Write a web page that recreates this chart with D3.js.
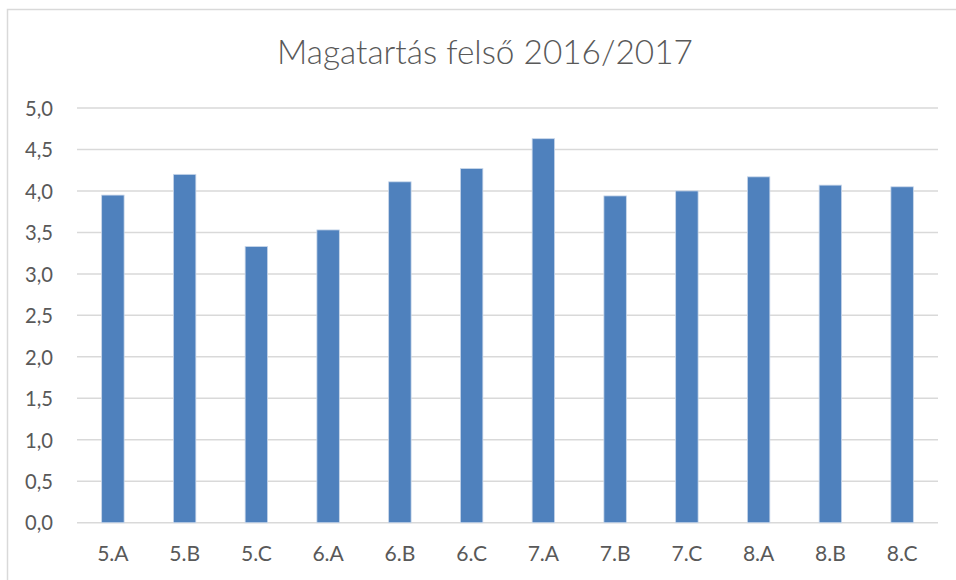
<!DOCTYPE html>
<html>
<head>
<meta charset="utf-8">
<script src="https://cdn.jsdelivr.net/npm/d3@7"></script>
<style>
  html, body { margin: 0; padding: 0; background: #fff; }
  svg { display: block; }
</style>
</head>
<body>
<svg id="chart" width="956" height="580"></svg>
<script>
const title = "Magatartás felső 2016/2017";
const categories = ["5.A","5.B","5.C","6.A","6.B","6.C","7.A","7.B","7.C","8.A","8.B","8.C"];
const values = [3.95, 4.20, 3.33, 3.53, 4.11, 4.27, 4.63, 3.94, 4.00, 4.17, 4.07, 4.05];
const yTicks = [0, 0.5, 1, 1.5, 2, 2.5, 3, 3.5, 4, 4.5, 5];

const svg = d3.select("#chart");
const W = 956, H = 580;
const plot = { left: 77, right: 938, top: 108, bottom: 522.7 };
const font = "Lato, 'Open Sans', 'Noto Sans', sans-serif";
const textColor = "#595959";

// chart border (extends past viewport right/bottom as in reference)
svg.append("rect")
  .attr("x", 7.5).attr("y", 9.5)
  .attr("width", W + 20).attr("height", H + 20)
  .attr("fill", "#fff").attr("stroke", "#D9D9D9").attr("stroke-width", 1.5);

const x = d3.scaleBand().domain(categories).range([plot.left, plot.right])
  .paddingInner(0.687).paddingOuter(0.3435);
const y = d3.scaleLinear().domain([0, 5]).range([plot.bottom, plot.top]);

function fit(sel, target) {
  const node = sel.node();
  const fs = parseFloat(sel.attr("font-size"));
  const w = node.getComputedTextLength();
  if (w > 0) sel.attr("font-size", fs * target / w);
}

// gridlines
const grid = svg.append("g");
grid.selectAll("line").data(yTicks).join("line")
  .attr("x1", plot.left).attr("x2", plot.right)
  .attr("y1", d => y(d)).attr("y2", d => y(d))
  .attr("stroke", "#D9D9D9").attr("stroke-width", 1.5);

// y axis labels via d3 axis
const fmt = d => d3.format(".1f")(d).replace(".", ",");
const yAxis = svg.append("g")
  .attr("transform", `translate(${53},0)`)
  .call(d3.axisLeft(y).tickValues(yTicks).tickFormat(fmt).tickSize(0).tickPadding(0));
yAxis.select(".domain").remove();
yAxis.selectAll("text")
  .attr("font-family", font).attr("font-size", 20)
  .attr("fill", textColor).attr("dy", "0.36em");

// bars
svg.append("g").selectAll("rect").data(values).join("rect")
  .attr("x", (d, i) => x(categories[i]))
  .attr("width", x.bandwidth())
  .attr("y", d => y(d))
  .attr("height", d => y(0) - y(d))
  .attr("fill", "#4F81BD")
  .attr("stroke", "#C9D7EA").attr("stroke-width", 0.8);

// x axis labels
const xAxis = svg.append("g")
  .attr("transform", `translate(0,${plot.bottom})`)
  .call(d3.axisBottom(x).tickSize(0).tickPadding(0));
xAxis.select(".domain").remove();
xAxis.selectAll("text")
  .attr("font-family", font).attr("font-size", 20)
  .attr("fill", textColor).attr("y", 38.5).attr("dy", 0);

// title
const t = svg.append("text")
  .attr("x", 485).attr("y", 64)
  .attr("text-anchor", "middle")
  .attr("font-family", font).attr("font-weight", 300)
  .attr("font-size", 32).attr("fill", textColor)
  .text(title);
fit(t, 416);

// fit axis label sizes to reference widths
const yl = yAxis.selectAll("text").filter(d => d === 5);
const yw = yl.node().getComputedTextLength();
const yfs = 20 * 28 / yw;
yAxis.selectAll("text").attr("font-size", yfs);
const xl = xAxis.selectAll("text").filter(d => d === "5.A");
const xw = xl.node().getComputedTextLength();
const xfs = 20 * 31.5 / xw;
xAxis.selectAll("text").attr("font-size", xfs);
</script>
</body>
</html>
